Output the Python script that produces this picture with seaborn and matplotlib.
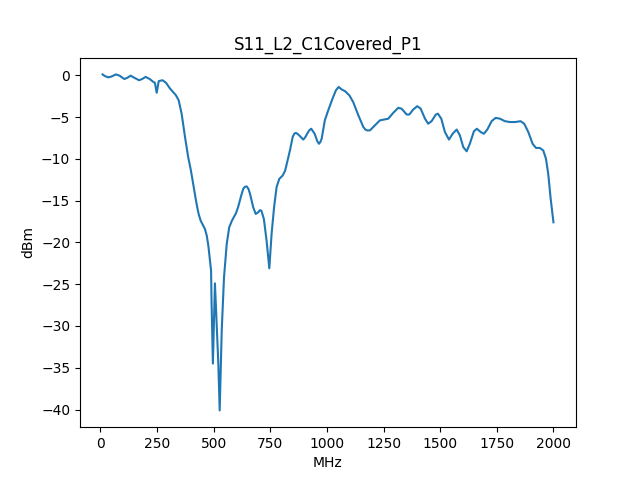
import pandas as pd
import matplotlib
matplotlib.use("Agg")
import matplotlib.pyplot as plt
import seaborn as sns

# values
freq = [10, 20, 35, 50, 69, 85, 106, 120, 134, 150, 171, 185, 200, 218, 234, 241, 249, 258, 275, 290,
        308, 334, 346, 359, 374, 388, 400, 415, 425, 434, 443, 462, 470, 477, 489, 491, 497, 506, 513, 521, 527,
        536, 546, 558, 569, 581, 599, 608, 616, 623, 631, 638, 646, 654, 661, 675, 686, 697, 704, 711, 722, 734, 746, 756, 767,
        778, 790, 805, 816, 837, 849, 856, 863, 870, 878, 896, 905, 913, 922, 931, 946, 958, 965, 971, 977, 991, 1006, 1025, 1040,
        1052, 1065, 1080, 1099, 1116, 1139, 1161, 1170, 1178, 1190, 1212, 1234, 1252, 1271, 1293, 1315, 1330,
        1352, 1364, 1381, 1399, 1414, 1433, 1447, 1462, 1481, 1490, 1505, 1521, 1539, 1555, 1573, 1587,
        1602, 1617, 1631, 1649, 1662, 1679, 1693, 1708, 1727, 1745, 1764, 1786, 1808, 1830, 1855, 1871,
        1889, 1908, 1923, 1940, 1955, 1967, 1977, 1987, 2000]
s11 = [0.1, -0.1, -0.25, -0.15, 0.1, -0.05, -0.45, -0.3, -0.05, -0.3, -0.6, -0.45, -0.2, -0.45, -0.8, -0.9, -2.1, -0.7, -0.6, -0.9,
       -1.6, -2.4, -3.0, -4.6, -7.4, -9.8, -11.4, -13.8, -15.4, -16.6, -17.4, -18.4, -19.2, -20.4, -23.4, -27.0, -34.5, -24.9, -29.3, -34.5, -40.1,
       -30.5, -24.2, -20.2, -18.2, -17.4, -16.5, -15.8, -15.0, -14.3, -13.6, -13.35, -13.3, -13.6, -14.2, -15.8, -16.6, -16.4, -16.15, -16.2, -17.2, -19.8, -23.1, -19.0, -15.8,
       -13.4, -12.4, -12.0, -11.4, -9.0, -7.4, -7.0, -6.9, -7.0, -7.2, -7.7, -7.4, -7.0, -6.6, -6.4, -7.0, -7.9, -8.2, -8.0, -7.6, -5.4, -4.2, -2.8, -1.8,
       -1.4, -1.7, -1.9, -2.4, -3.2, -4.8, -6.2, -6.5, -6.6, -6.6, -6.0, -5.4, -5.3, -5.2, -4.5, -3.9, -4.0,
       -4.7, -4.7, -4.1, -3.7, -4.0, -5.2, -5.8, -5.5, -4.7, -4.6, -5.2, -6.8, -7.7, -7.0, -6.5, -7.2,
       -8.6, -9.1, -8.2, -6.7, -6.4, -6.8, -7.0, -6.5, -5.5, -5.1, -5.2, -5.5, -5.6, -5.6, -5.5, -5.8,
       -6.8, -8.2, -8.7, -8.7, -9.0, -10.0, -11.8, -14.6, -17.6]

df = pd.DataFrame({"MHz": freq, "dBm": s11})

plt.figure(figsize=(6.4, 4.8), dpi=100)
sns.lineplot(data=df, x="MHz", y="dBm", sort=False, errorbar=None)
plt.title("S11_L2_C1Covered_P1")
plt.savefig("out.png", dpi=100)
